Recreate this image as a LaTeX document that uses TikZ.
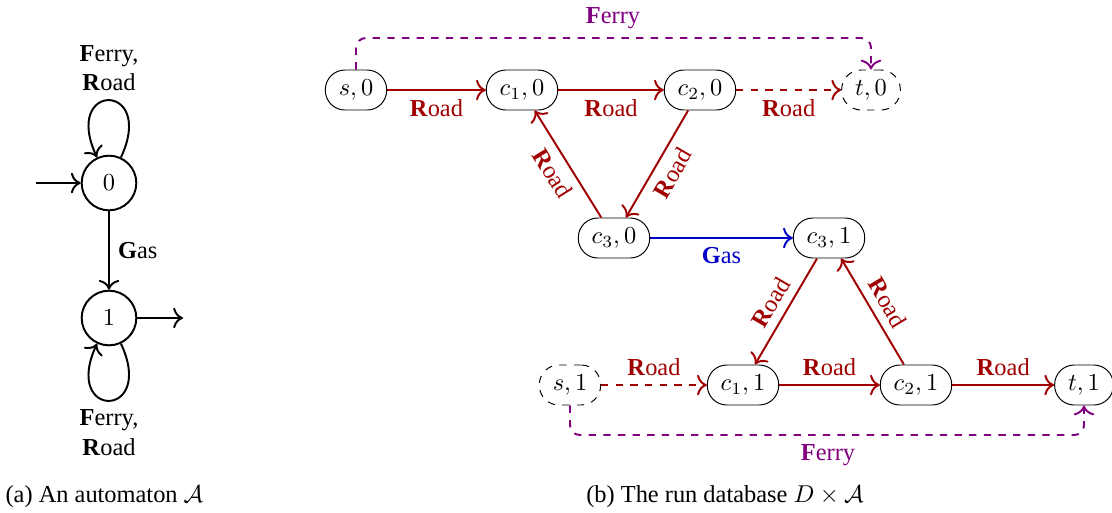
\documentclass[tikz,border=0pt]{standalone}
\usepackage{amsmath}
\usepackage{fontspec}
\setmainfont{Liberation Serif}
\usepackage{tikz}
\usetikzlibrary{calc, arrows.meta}
\definecolor{roadred}{RGB}{160,0,0}
\definecolor{ferrypurple}{RGB}{128,0,128}
\definecolor{gasblue}{RGB}{0,0,200}
\tikzset{
    >={To[scale=1.2]},
    runnode/.style={draw, rectangle, rounded corners=8pt, minimum height=16.4pt, inner xsep=5.5pt, inner ysep=3pt},
    ghost/.style={runnode, dashed},
    state/.style={draw, circle, thick, minimum size=22.4pt, inner sep=0pt},
    road/.style={->, thick, roadred},
    ferry/.style={->, thick, dashed, ferrypurple, rounded corners=4pt},
    gas/.style={->, thick, gasblue},
}
\newcommand{\rd}{\textbf{R}oad}
\newcommand{\fy}{\textbf{F}erry}
\newcommand{\gs}{\textbf{G}as}

\begin{document}
\begin{tikzpicture}[x=0.41pt, y=-0.41pt]
    \useasboundingbox (0,0) rectangle (1112,512);

    % the automaton
    \node[state] (q0) at (109,183) {$0$};
    \node[state] (q1) at (109,318) {$1$};
    \coordinate (init) at (36,183);
    \coordinate (fin) at (183,318);
    \draw[->, thick] (init) -- (q0);
    \draw[->, thick] (q1) -- (fin);
    \draw[->, thick] (q0) -- node[right] {\gs} (q1);
    \draw[->, thick] (q0) to[out=65, in=115, looseness=9] node[above, align=center] {\fy,\\\rd} (q0);
    \draw[->, thick] (q1) to[out=-65, in=-115, looseness=9] node[below, align=center] {\fy,\\\rd} (q1);
    \node[anchor=west] (capa) at (-3,497) {(a) An automaton $\mathcal{A}$};

    % the run database
    \node[runnode] (s0) at (356,90) {$s,0$};
    \node[runnode] (c10) at (522,90) {$c_1,0$};
    \node[runnode] (c20) at (700,90) {$c_2,0$};
    \node[ghost] (t0) at (871,90) {$t,0$};
    \node[runnode] (c30) at (614,238) {$c_3,0$};
    \node[runnode] (c31) at (829,238) {$c_3,1$};
    \node[ghost] (s1) at (570,385) {$s,1$};
    \node[runnode] (c11) at (743,385) {$c_1,1$};
    \node[runnode] (c21) at (916,385) {$c_2,1$};
    \node[runnode] (t1) at (1084,385) {$t,1$};

    \draw[road] (s0) -- node[below] {\rd} (c10);
    \draw[road] (c10) -- node[below] {\rd} (c20);
    \draw[road, dashed] (c20) -- node[below] {\rd} (t0);
    \draw[road] (c20) -- node[sloped, below] {\rd} (c30);
    \draw[road] (c30) -- node[sloped, below] {\rd} (c10);
    \draw[gas] (c30) -- node[below] {\gs} (c31);
    \draw[road] (c31) -- node[sloped, above] {\rd} (c11);
    \draw[road] (c21) -- node[sloped, above] {\rd} (c31);
    \draw[road, dashed] (s1) -- node[above] {\rd} (c11);
    \draw[road] (c11) -- node[above] {\rd} (c21);
    \draw[road] (c21) -- node[above] {\rd} (t1);

    \coordinate (ftop) at (613,38);
    \coordinate (fbot) at (828,435);
    \draw[ferry] (s0.north) |- (ftop) node[above, text=ferrypurple] {\fy} -| (t0.north);
    \draw[ferry] (s1.south) |- (fbot) node[below, text=ferrypurple] {\fy} -| (t1.south);

    \node (capb) at (725,497) {(b) The run database $D\times\mathcal{A}$};
\end{tikzpicture}
\end{document}
